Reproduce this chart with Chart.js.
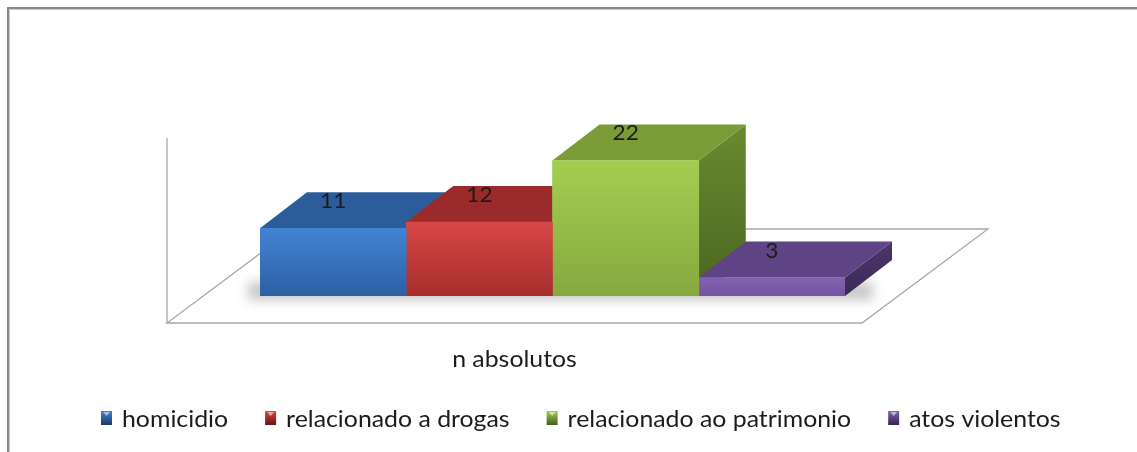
<!DOCTYPE html>
<html><head><meta charset="utf-8">
<script src="https://cdn.jsdelivr.net/npm/chart.js@4"></script>
<style>html,body{margin:0;padding:0;background:#fff;}canvas{display:block;}</style>
</head><body>
<canvas id="c" width="1137" height="452"></canvas>
<script>
// ---- data ----
const categories = ['n absolutos'];
const seriesNames = ['homicidio', 'relacionado a drogas', 'relacionado ao patrimonio', 'atos violentos'];
const homicidio = [11];
const relacionadoDrogas = [12];
const relacionadoPatrimonio = [22];
const atosViolentos = [3];
const yMin = 0, yMax = 25;
const seriesValues = [homicidio, relacionadoDrogas, relacionadoPatrimonio, atosViolentos];

// ---- styles ----
const palette = [
  {front:['#4283D4','#2D5FA3'], top:'#2C5C9A', side:['#2A568F','#1E4070']},
  {front:['#D84745','#A62D2C'], top:'#9A2B2A', side:['#882524','#691A19']},
  {front:['#A3CE51','#86A93F'], top:'#7B9B37', side:['#6A8A31','#4A6620']},
  {front:['#8262B1','#7354A0'], top:'#5E4485', side:['#4D376F','#3A2856']}
];
const FONT = 'Lato, "Noto Sans", sans-serif';
const TXT = '#1c1c1c';
const K = 1.08; // horizontal text stretch
const DEPTH = {dx: 47, dy: -36};

function sText(ctx, text, x, y, align, size, k) {
  ctx.save();
  ctx.font = size + 'px ' + FONT;
  ctx.fillStyle = TXT;
  ctx.textBaseline = 'alphabetic';
  ctx.translate(x, y);
  ctx.scale(k, 1);
  ctx.textAlign = align;
  ctx.fillText(text, 0, 0);
  const w = ctx.measureText(text).width * k;
  ctx.restore();
  return w;
}

function frontFill(i) {
  return (c) => {
    const chart = c.chart, a = chart.chartArea;
    if (!a) return palette[i].front[1];
    const ys = chart.scales.y;
    const top = ys.getPixelForValue(c.raw || 0), base = ys.getPixelForValue(0);
    const g = chart.ctx.createLinearGradient(0, top, 0, base);
    g.addColorStop(0, palette[i].front[0]);
    g.addColorStop(1, palette[i].front[1]);
    return g;
  };
}

const threeD = {
  id: 'threeD',
  beforeDatasetsDraw(chart) {
    const ctx = chart.ctx, a = chart.chartArea;
    const y0 = chart.scales.y.getPixelForValue(0);
    const yTop = chart.scales.y.getPixelForValue(yMax);
    // floor
    const fl = a.left - 93, fr = a.right + 17, fy = y0 + 27;
    const bdx = 126, bdy = -94;
    ctx.save();
    ctx.fillStyle = '#ffffff';
    ctx.strokeStyle = '#a8a8a8';
    ctx.lineWidth = 1.3;
    ctx.beginPath();
    ctx.moveTo(fl, fy); ctx.lineTo(fr, fy); ctx.lineTo(fr + bdx, fy + bdy); ctx.lineTo(fl + bdx, fy + bdy); ctx.closePath();
    ctx.fill(); ctx.stroke();
    // left wall edge
    ctx.beginPath();
    ctx.moveTo(fl, fy); ctx.lineTo(fl, yTop - 4);
    ctx.stroke();
    // soft shadow under bars
    ctx.filter = 'blur(6px)';
    ctx.fillStyle = 'rgba(0,0,0,0.22)';
    ctx.fillRect(a.left - 12, y0 - 14, a.right - a.left + 40, 18);
    ctx.filter = 'none';
    ctx.restore();
    // top & side faces
    chart.data.datasets.forEach((ds, i) => {
      const el = chart.getDatasetMeta(i).data[0];
      if (!el) return;
      const p = el.getProps(['x', 'y', 'base', 'width'], true);
      const x1 = p.x - p.width / 2, x2 = p.x + p.width / 2, yt = p.y, yb = p.base;
      const {dx, dy} = DEPTH;
      ctx.save();
      const sg = ctx.createLinearGradient(0, yt + dy, 0, yb);
      sg.addColorStop(0, palette[i].side[0]);
      sg.addColorStop(1, palette[i].side[1]);
      ctx.fillStyle = sg;
      ctx.beginPath();
      ctx.moveTo(x2, yt); ctx.lineTo(x2 + dx, yt + dy); ctx.lineTo(x2 + dx, yb + dy); ctx.lineTo(x2, yb); ctx.closePath();
      ctx.fill();
      ctx.fillStyle = palette[i].top;
      ctx.beginPath();
      ctx.moveTo(x1, yt); ctx.lineTo(x2, yt); ctx.lineTo(x2 + dx, yt + dy); ctx.lineTo(x1 + dx, yt + dy); ctx.closePath();
      ctx.fill();
      ctx.restore();
    });
  },
  afterDatasetsDraw(chart) {
    const ctx = chart.ctx;
    chart.data.datasets.forEach((ds, i) => {
      const el = chart.getDatasetMeta(i).data[0];
      if (!el) return;
      const p = el.getProps(['x', 'y'], true);
      sText(ctx, String(ds.data[0]), p.x, p.y - 20, 'center', 21, K);
    });
  },
  afterDraw(chart) {
    const ctx = chart.ctx, a = chart.chartArea;
    const y0 = chart.scales.y.getPixelForValue(0);
    const fl = a.left - 93, fr = a.right + 17;
    sText(ctx, chart.data.labels[0], (fl + fr) / 2, y0 + 71, 'center', 23, K);
    // legend
    let x = 101;
    const base = 427;
    chart.data.datasets.forEach((ds, i) => {
      const g = ctx.createLinearGradient(0, base - 16, 0, base - 3);
      g.addColorStop(0, palette[i].front[0]);
      g.addColorStop(1, palette[i].side[1]);
      ctx.fillStyle = g;
      ctx.fillRect(x, base - 16, 11, 14);
      ctx.fillStyle = 'rgba(255,255,255,0.55)';
      ctx.beginPath();
      ctx.moveTo(x + 2, base - 15); ctx.lineTo(x + 9, base - 15); ctx.lineTo(x + 5.5, base - 11); ctx.closePath();
      ctx.fill();
      const w = sText(ctx, ds.label, x + 21, base, 'left', 23, K);
      x += 21 + w + 37;
    });
    // chart frame (cropped)
    ctx.save();
    ctx.strokeStyle = '#8a8a8a';
    ctx.lineWidth = 2;
    ctx.beginPath();
    ctx.moveTo(8, 452); ctx.lineTo(8, 8); ctx.lineTo(1137, 8);
    ctx.stroke();
    ctx.strokeStyle = '#c8c8c8'; ctx.lineWidth = 1;
    ctx.beginPath();
    ctx.moveTo(9.5, 452); ctx.lineTo(9.5, 9.5); ctx.lineTo(1137, 9.5);
    ctx.stroke();
    ctx.restore();
  }
};

new Chart(document.getElementById('c').getContext('2d'), {
  type: 'bar',
  data: {
    labels: categories,
    datasets: seriesNames.map((n, i) => ({
      label: n,
      data: seriesValues[i],
      backgroundColor: frontFill(i),
      borderWidth: 0,
      categoryPercentage: 1,
      barPercentage: 1
    }))
  },
  options: {
    responsive: false,
    animation: false,
    devicePixelRatio: 1,
    layout: {padding: {left: 260, right: 292, top: 142, bottom: 156}},
    scales: {
      x: {display: false},
      y: {display: false, min: yMin, max: yMax}
    },
    plugins: {legend: {display: false}, tooltip: {enabled: false}}
  },
  plugins: [threeD]
});
</script>
</body></html>
